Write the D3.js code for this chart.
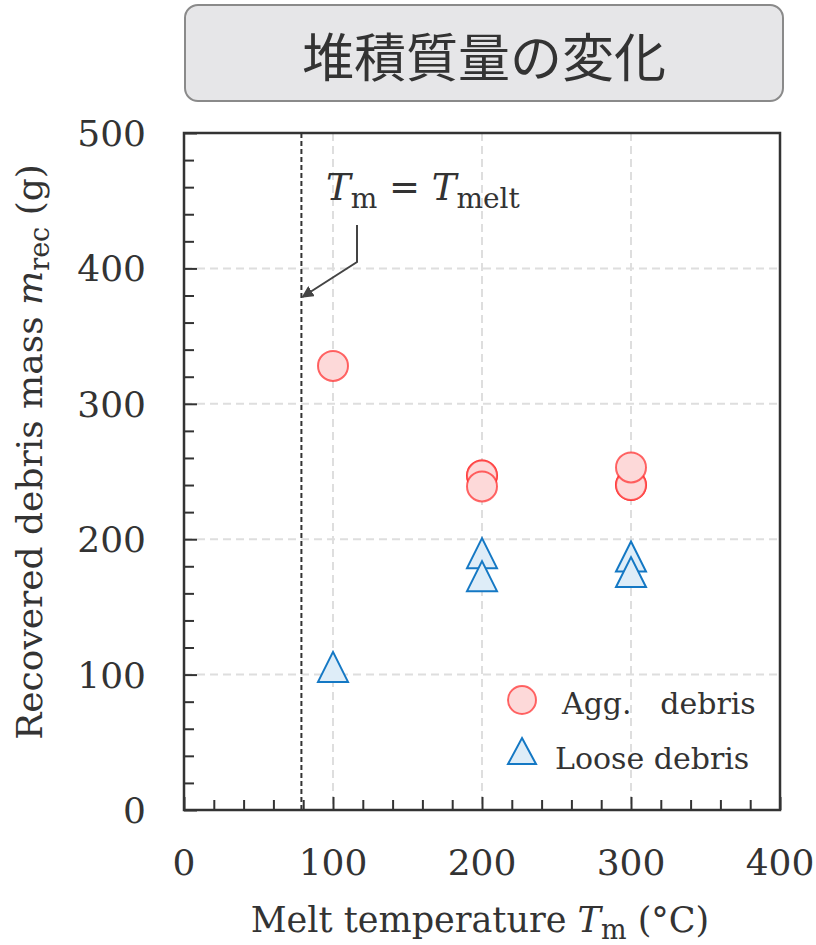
<!DOCTYPE html>
<html>
<head>
<meta charset="utf-8">
<script src="https://cdn.jsdelivr.net/npm/d3@7"></script>
<style>
  body { margin: 0; background: #fff; }
  text { fill: #333; }
</style>
</head>
<body>
<div id="chart"></div>
<script>
// recovered debris mass vs melt temperature
var aggTemp = [100, 200, 200, 200, 300, 300, 300];
var aggMass = [328, 247, 247, 239, 240, 240, 253];
var looseTemp = [100, 200, 200, 300, 300];
var looseMass = [102, 186, 169, 183.5, 172];
var meltTemp = 78.8;
var xTicks = [0, 100, 200, 300, 400];
var yTicks = [0, 100, 200, 300, 400, 500];
var legendLabels = ["Agg.\u00a0\u00a0\u00a0debris", "Loose debris"];
var titleText = "堆積質量の変化";

var W = 816, H = 945;
var serif = "'DejaVu Serif', 'Liberation Serif', serif";

var svg = d3.select("#chart").append("svg")
  .attr("width", W)
  .attr("height", H);

var x = d3.scaleLinear().domain([0, 400]).range([184, 780]);
var y = d3.scaleLinear().domain([0, 500]).range([810, 133]);

// title box
svg.append("rect")
  .attr("x", 185).attr("y", 5)
  .attr("width", 598).attr("height", 96)
  .attr("rx", 13)
  .attr("fill", "#e6e6e8")
  .attr("stroke", "#8a8a8a")
  .attr("stroke-width", 2);

svg.append("text")
  .attr("x", 484).attr("y", 54)
  .attr("text-anchor", "middle")
  .attr("dominant-baseline", "central")
  .style("font-family", "'Noto Sans CJK JP', sans-serif")
  .style("font-size", "52px")
  .text(titleText);

// grid
var grid = svg.append("g")
  .attr("stroke", "#dedede")
  .attr("stroke-width", 2)
  .attr("stroke-dasharray", "8,5");

grid.selectAll(".gx")
  .data(xTicks.slice(1, -1))
  .enter().append("line")
  .attr("x1", d => x(d)).attr("x2", d => x(d))
  .attr("y1", y(500)).attr("y2", y(0));

grid.selectAll(".gy")
  .data(yTicks.slice(1, -1))
  .enter().append("line")
  .attr("x1", x(0)).attr("x2", x(400))
  .attr("y1", d => y(d)).attr("y2", d => y(d));

// axes, ticks pointing inside
var xMinor = d3.range(0, 401, 20);
var yMinor = d3.range(0, 501, 20);

var xAxis = svg.append("g")
  .attr("transform", "translate(0," + y(0) + ")")
  .call(d3.axisBottom(x).tickValues(xMinor).tickSize(-10).tickFormat(""));
var yAxis = svg.append("g")
  .attr("transform", "translate(" + x(0) + ",0)")
  .call(d3.axisLeft(y).tickValues(yMinor).tickSize(-10).tickFormat(""));

[xAxis, yAxis].forEach(function(g) {
  g.select(".domain").remove();
  g.selectAll("line").attr("stroke", "#333").attr("stroke-width", 2);
});
xAxis.selectAll(".tick line").filter(d => d % 100 === 0).attr("y2", -13);
yAxis.selectAll(".tick line").filter(d => d % 100 === 0).attr("x2", 13);

svg.append("rect")
  .attr("x", x(0)).attr("y", y(500))
  .attr("width", x(400) - x(0)).attr("height", y(0) - y(500))
  .attr("fill", "none")
  .attr("stroke", "#333")
  .attr("stroke-width", 2.5);

// tick labels
svg.selectAll(".xl")
  .data(xTicks)
  .enter().append("text")
  .attr("x", d => x(d)).attr("y", 875)
  .attr("text-anchor", "middle")
  .style("font-family", serif).style("font-size", "36px")
  .text(d => d);

svg.selectAll(".yl")
  .data(yTicks)
  .enter().append("text")
  .attr("x", 146).attr("y", d => y(d))
  .attr("dy", "0.36em")
  .attr("text-anchor", "end")
  .style("font-family", serif).style("font-size", "36px")
  .text(d => d);

// axis titles
var xt = svg.append("text")
  .attr("x", 480).attr("y", 932)
  .attr("text-anchor", "middle")
  .style("font-family", serif).style("font-size", "35px");
xt.append("tspan").text("Melt temperature ");
xt.append("tspan").style("font-style", "italic").text("T");
xt.append("tspan").attr("dy", 7).style("font-size", "27px").text("m");
xt.append("tspan").attr("dy", -7).text(" (°C)");

var yt = svg.append("text")
  .attr("transform", "translate(42,452) rotate(-90)")
  .attr("text-anchor", "middle")
  .style("font-family", serif).style("font-size", "36px");
yt.append("tspan").text("Recovered debris mass ");
yt.append("tspan").style("font-style", "italic").text("m");
yt.append("tspan").attr("dy", 7).style("font-size", "27px").text("rec");
yt.append("tspan").attr("dy", -7).text(" (g)");

// melt temperature line + annotation
svg.append("line")
  .attr("x1", x(meltTemp)).attr("x2", x(meltTemp))
  .attr("y1", y(500)).attr("y2", y(0))
  .attr("stroke", "#333")
  .attr("stroke-width", 2)
  .attr("stroke-dasharray", "5,3");

svg.append("defs").append("marker")
  .attr("id", "arrow")
  .attr("viewBox", "0 0 10 10")
  .attr("refX", 9).attr("refY", 5)
  .attr("markerWidth", 6).attr("markerHeight", 6)
  .attr("orient", "auto")
  .append("path")
  .attr("d", "M0,0L10,5L0,10z")
  .attr("fill", "#444");

svg.append("path")
  .attr("d", d3.line()([[357, 225], [357, 262], [x(meltTemp) + 1, 297]]))
  .attr("fill", "none")
  .attr("stroke", "#444")
  .attr("stroke-width", 2)
  .attr("marker-end", "url(#arrow)");

var ann = svg.append("text")
  .attr("x", 326).attr("y", 200)
  .style("font-family", serif).style("font-size", "37px");
ann.append("tspan").style("font-style", "italic").text("T");
ann.append("tspan").attr("dy", 8).style("font-size", "28px").text("m");
ann.append("tspan").attr("dy", -8).text(" = ");
ann.append("tspan").style("font-style", "italic").text("T");
ann.append("tspan").attr("dy", 8).style("font-size", "28px").text("melt");

// markers
var tri = "M0,-20L15,10L-15,10Z";
var tri2 = "M0,-17L14,9L-14,9Z";

svg.append("g").selectAll("circle")
  .data(aggTemp)
  .enter().append("circle")
  .attr("cx", d => x(d))
  .attr("cy", (d, i) => y(aggMass[i]))
  .attr("r", 15)
  .attr("fill", "#fdd9d9")
  .attr("stroke", "rgba(255,40,40,0.7)")
  .attr("stroke-width", 2);

svg.append("g").selectAll("path")
  .data(looseTemp)
  .enter().append("path")
  .attr("transform", (d, i) => "translate(" + x(d) + "," + y(looseMass[i]) + ")")
  .attr("d", tri)
  .attr("fill", "#deedf8")
  .attr("stroke", "#1478c4")
  .attr("stroke-width", 2);

// legend
var leg = svg.append("g");
leg.append("circle")
  .attr("cx", 522).attr("cy", 700).attr("r", 14)
  .attr("fill", "#fdd9d9")
  .attr("stroke", "rgba(255,40,40,0.7)")
  .attr("stroke-width", 2);
leg.append("path")
  .attr("transform", "translate(522,755)")
  .attr("d", tri2)
  .attr("fill", "#deedf8")
  .attr("stroke", "#1478c4")
  .attr("stroke-width", 2);
leg.selectAll("text")
  .data(legendLabels)
  .enter().append("text")
  .attr("x", (d, i) => i === 0 ? 562 : 555)
  .attr("y", (d, i) => i === 0 ? 714 : 769)
  .style("font-family", serif).style("font-size", "30px")
  .text(d => d);
</script>
</body>
</html>
